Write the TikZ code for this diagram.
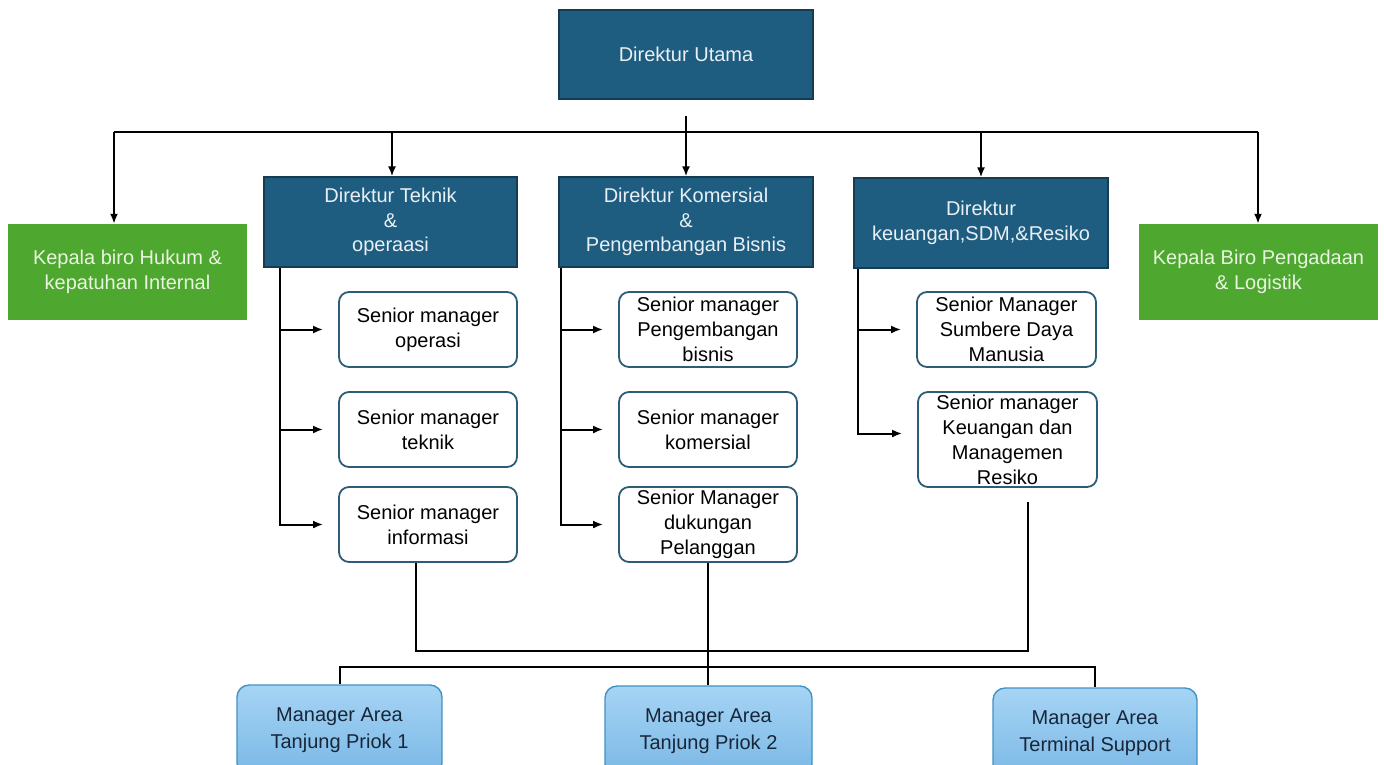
\documentclass[tikz,border=0pt]{standalone}
\usepackage{fontspec}
\setmainfont{Liberation Sans}
\usetikzlibrary{arrows.meta,backgrounds}

\definecolor{dirblue}{RGB}{31,93,128}
\definecolor{dirline}{RGB}{22,60,84}
\definecolor{dirtext}{RGB}{232,240,246}
\definecolor{birogreen}{RGB}{78,167,46}
\definecolor{birotext}{RGB}{232,245,224}
\definecolor{smline}{RGB}{44,92,118}
\definecolor{areatop}{RGB}{166,212,244}
\definecolor{areabot}{RGB}{122,184,230}
\definecolor{arealine}{RGB}{64,146,196}
\definecolor{areatext}{RGB}{24,38,58}

\begin{document}
\begin{tikzpicture}[x=1pt,y=-1pt,>={Latex[length=10pt,width=8pt]}]

    % `direktur' is used for the board boxes.
    % `biro' is used for the two staff offices.
    % `senior' and `area' are the lower levels.
    % `conn' is used for every connector.
    \tikzstyle{direktur} = [draw=dirline,line width=1.2pt,fill=dirblue,text=dirtext,
      minimum width=254pt,minimum height=90pt,inner sep=0pt,align=center,
      font=\fontsize{20}{24.5}\selectfont]
    \tikzstyle{biro} = [fill=birogreen,text=birotext,minimum width=239pt,
      minimum height=96pt,inner sep=0pt,align=center,font=\fontsize{20}{25}\selectfont]
    \tikzstyle{senior} = [draw=smline,line width=1.8pt,fill=white,rounded corners=10pt,
      minimum width=178pt,minimum height=75pt,inner sep=0pt,align=center,
      font=\fontsize{20}{25}\selectfont]
    \tikzstyle{area} = [draw=arealine,line width=1.4pt,top color=areatop,bottom color=areabot,
      rounded corners=12pt,text=areatext,minimum width=205pt,minimum height=90pt,
      inner sep=0pt,align=center,font=\fontsize{20}{27}\selectfont]
    \tikzstyle{conn} = [draw=black,line width=2pt]
    %
    \clip (0,0) rectangle (1384,764);

    % Top level.
    \node[direktur,minimum height=89pt] (utama) at (686,54.5) {Direktur Utama};

    \node[biro] (hukum) at (127.5,272) {Kepala biro Hukum \&\\kepatuhan Internal};
    \node[direktur,minimum width=253pt] (teknik) at (390.5,222) {Direktur Teknik\\\&\\operaasi};
    \node[direktur] (komersial) at (686,222) {Direktur Komersial\\\&\\Pengembangan Bisnis};
    \node[direktur] (keuangan) at (981,223) {Direktur\\keuangan,SDM,\&Resiko};
    \node[biro] (pengadaan) at (1258.5,272) {Kepala Biro Pengadaan\\\& Logistik};

    % Senior managers.
    \node[senior] (smOperasi) at (428,329.5) {Senior manager\\operasi};
    \node[senior] (smTeknik) at (428,429.5) {Senior manager\\teknik};
    \node[senior] (smInformasi) at (428,524.5) {Senior manager\\informasi};

    \node[senior] (smBisnis) at (708,329.5) {Senior manager\\Pengembangan\\bisnis};
    \node[senior] (smKomersial) at (708,429.5) {Senior manager\\komersial};
    \node[senior] (smPelanggan) at (708,524.5) {Senior Manager\\dukungan\\Pelanggan};

    \node[senior,minimum width=179pt] (smSDM) at (1006.5,329.5) {Senior Manager\\Sumbere Daya\\Manusia};
    \node[senior,minimum width=179pt,minimum height=95pt] (smRisiko) at (1007.5,439.5)
      {Senior manager\\Keuangan dan\\Managemen\\Resiko};

    % Area managers.
    \node[area] (area1) at (339.5,730) {Manager Area\\Tanjung Priok 1};
    \node[area,minimum width=207pt] (area2) at (708.5,731) {Manager Area\\Tanjung Priok 2};
    \node[area,minimum width=204pt] (area3) at (1095,733) {Manager Area\\Terminal Support};

    \coordinate (busL) at (114,132);
    \coordinate (busR) at (1258,132);

    \begin{pgfonlayer}{background}
        % Draw lines.
        \draw[conn] ([yshift=-16pt]utama.south) -- (utama.south |- busL);
        \draw[conn] (busL) -- (busR);
        \draw[conn,->] (busL) -- (busL |- hukum.north);
        \draw[conn,->] ([xshift=1.5pt]teknik.north |- busL) -- ([xshift=1.5pt]teknik.north);
        \draw[conn,->] (komersial.north |- busL) -- (komersial.north);
        \draw[conn,->] (keuangan.north |- busL) -- (keuangan.north);
        \draw[conn,->] (busR) -- (busR |- pengadaan.north);

        \draw[conn,->,shorten >=15pt] ([xshift=17pt]teknik.south west) |- (smOperasi);
        \draw[conn,->,shorten >=15pt] ([xshift=17pt]teknik.south west) |- (smTeknik);
        \draw[conn,->,shorten >=15pt] ([xshift=17pt]teknik.south west) |- (smInformasi);

        \draw[conn,->,shorten >=15pt] ([xshift=3pt]komersial.south west) |- (smBisnis);
        \draw[conn,->,shorten >=15pt] ([xshift=3pt]komersial.south west) |- (smKomersial);
        \draw[conn,->,shorten >=15pt] ([xshift=3pt]komersial.south west) |- (smPelanggan);

        \draw[conn,->,shorten >=15pt] ([xshift=5pt]keuangan.south west) |- (smSDM);
        \draw[conn,->,shorten >=15pt] ([xshift=5pt]keuangan.south west) |- ([yshift=6pt]smRisiko.west);

        \draw[conn] ([xshift=-12pt]smInformasi.south) -- ++(0,88)
          -| ([xshift=20pt,yshift=-14pt]smRisiko.south);
        \draw[conn] (smPelanggan.south) -- (smPelanggan.south |- area2.north);
        \draw[conn] (area1.north) -- ++(0,-17) -| (area3.north);
    \end{pgfonlayer}
    %
\end{tikzpicture}
\end{document}
